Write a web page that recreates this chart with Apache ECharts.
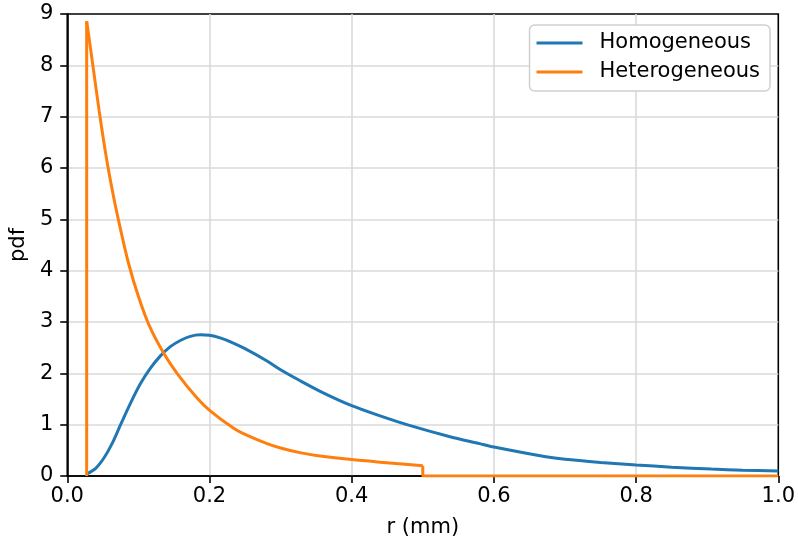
<!DOCTYPE html>
<html>
<head>
<meta charset="utf-8">
<script src="https://cdn.jsdelivr.net/npm/echarts@6/dist/echarts.min.js"></script>
<style>
  html, body { margin: 0; padding: 0; background: #fff; }
  #chart { width: 798px; height: 543px; }
</style>
</head>
<body>
<div id="chart"></div>
<script>
  // values, r in mm
  var homR = [0.0273, 0.04, 0.052, 0.063, 0.075, 0.089, 0.103, 0.117, 0.131, 0.145, 0.159, 0.173, 0.187, 0.20, 0.215, 0.232, 0.25, 0.281, 0.30, 0.327, 0.36, 0.40, 0.44, 0.48, 0.537, 0.58, 0.60, 0.673, 0.70, 0.75, 0.80, 0.85, 0.906, 0.95, 1.0];
  var homPdf = [0.04, 0.15, 0.36, 0.63, 1.0, 1.42, 1.80, 2.10, 2.34, 2.52, 2.64, 2.72, 2.75, 2.74, 2.69, 2.6, 2.48, 2.24, 2.07, 1.86, 1.62, 1.37, 1.17, 0.99, 0.77, 0.63, 0.565, 0.375, 0.325, 0.265, 0.215, 0.172, 0.135, 0.113, 0.097];

  // heterogeneous: smooth body between rmin and 0.5 mm
  var hetR = [0.0273, 0.035, 0.045, 0.055, 0.065, 0.075, 0.0866, 0.10, 0.1147, 0.1357, 0.1544, 0.1825, 0.201, 0.234, 0.25, 0.281, 0.30, 0.327, 0.35, 0.40, 0.449, 0.5];
  var hetPdf = [8.86, 8.1, 7.1, 6.2, 5.45, 4.8, 4.12, 3.5, 2.95, 2.39, 2.0, 1.52, 1.27, 0.93, 0.81, 0.63, 0.545, 0.455, 0.40, 0.32, 0.26, 0.20];
  // vertical jump at rmin and the drop to zero past 0.5 mm
  var hetEdgeR = [0.0273, 0.0273];
  var hetEdgePdf = [0, 8.86];
  var hetTailR = [0.5, 0.5, 1.0];
  var hetTailPdf = [0.20, 0, 0];

  function pairs(xs, ys) {
    return xs.map(function (x, i) { return [x, ys[i]]; });
  }

  var font = 'DejaVu Sans';
  var fs = 21;
  var blue = '#1f77b4';
  var orange = '#ff7f0e';
  var lineIcon = 'path://M0,0 L46,0 L46,3 L0,3 Z';

  function orangeSeries(data, smooth) {
    return {
      name: 'Heterogeneous', type: 'line', symbol: 'none', smooth: smooth,
      lineStyle: { color: orange, width: 3 },
      itemStyle: { color: orange },
      data: data
    };
  }

  var chart = echarts.init(document.getElementById('chart'));
  chart.setOption({
    animation: false,
    textStyle: { fontFamily: font },
    grid: {
      left: 66.5, right: 18, top: 14, bottom: 64.7,
      show: true, borderColor: '#000', borderWidth: 1.6, backgroundColor: 'transparent'
    },
    legend: {
      orient: 'vertical',
      right: 28, top: 25,
      itemWidth: 46, itemHeight: 3, itemGap: 7,
      padding: [7, 10, 8, 7],
      backgroundColor: '#fff',
      borderColor: '#d0d0d0', borderWidth: 1.5, borderRadius: 5,
      textStyle: { fontFamily: font, fontSize: fs, color: '#000', lineHeight: 22, padding: [0, 0, 0, 12] },
      data: [
        { name: 'Homogeneous', icon: lineIcon, itemStyle: { color: blue } },
        { name: 'Heterogeneous', icon: lineIcon, itemStyle: { color: orange } }
      ]
    },
    xAxis: {
      type: 'value', min: 0, max: 1, interval: 0.2,
      name: 'r (mm)', nameLocation: 'middle', nameGap: 41,
      nameTextStyle: { fontFamily: font, fontSize: fs, color: '#000' },
      axisLine: { show: true, onZero: false, lineStyle: { color: '#000', width: 1.6 } },
      axisTick: { show: true, length: 7, lineStyle: { color: '#000', width: 1.6 } },
      axisLabel: {
        fontFamily: font, fontSize: fs, color: '#000', margin: 10,
        formatter: function (v) { return v.toFixed(1); }
      },
      splitLine: { show: true, showMinLine: false, showMaxLine: false, lineStyle: { color: '#dadada', width: 1.6 } }
    },
    yAxis: {
      type: 'value', min: 0, max: 9, interval: 1,
      name: 'pdf', nameLocation: 'middle', nameGap: 35,
      nameTextStyle: { fontFamily: font, fontSize: fs, color: '#000' },
      axisLine: { show: true, lineStyle: { color: '#000', width: 1.6 } },
      axisTick: { show: true, length: 7, lineStyle: { color: '#000', width: 1.6 } },
      axisLabel: { fontFamily: font, fontSize: fs, color: '#000', margin: 14 },
      splitLine: { show: true, showMinLine: false, showMaxLine: false, lineStyle: { color: '#dadada', width: 1.6 } }
    },
    series: [
      {
        name: 'Homogeneous', type: 'line', symbol: 'none', smooth: 0.3,
        lineStyle: { color: blue, width: 3 },
        itemStyle: { color: blue },
        data: pairs(homR, homPdf)
      },
      orangeSeries(pairs(hetEdgeR, hetEdgePdf), false),
      orangeSeries(pairs(hetR, hetPdf), 0.3),
      orangeSeries(pairs(hetTailR, hetTailPdf), false)
    ]
  });
</script>
</body>
</html>
